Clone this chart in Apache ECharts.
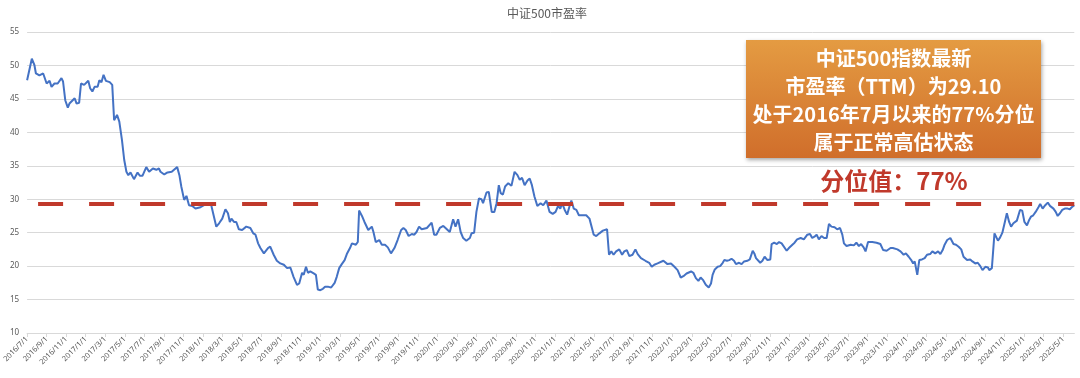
<!DOCTYPE html>
<html>
<head>
<meta charset="utf-8">
<script src="https://cdn.jsdelivr.net/npm/echarts@6/dist/echarts.min.js"></script>
<style>
html,body{margin:0;padding:0;background:#fff;}
#chart{width:1080px;height:378px;}
</style>
</head>
<body>
<div id="chart"></div>
<script>
// ---- data ----
const chartTitle = '中证500市盈率';
const xTickLabels = [
 '2016/7/1','2016/9/1','2016/11/1',
 '2017/1/1','2017/3/1','2017/5/1','2017/7/1','2017/9/1','2017/11/1',
 '2018/1/1','2018/3/1','2018/5/1','2018/7/1','2018/9/1','2018/11/1',
 '2019/1/1','2019/3/1','2019/5/1','2019/7/1','2019/9/1','2019/11/1',
 '2020/1/1','2020/3/1','2020/5/1','2020/7/1','2020/9/1','2020/11/1',
 '2021/1/1','2021/3/1','2021/5/1','2021/7/1','2021/9/1','2021/11/1',
 '2022/1/1','2022/3/1','2022/5/1','2022/7/1','2022/9/1','2022/11/1',
 '2023/1/1','2023/3/1','2023/5/1','2023/7/1','2023/9/1','2023/11/1',
 '2024/1/1','2024/3/1','2024/5/1','2024/7/1','2024/9/1','2024/11/1',
 '2025/1/1','2025/3/1','2025/5/1'
];
const yTicks = [10, 15, 20, 25, 30, 35, 40, 45, 50, 55];
const percentileValue = 29.25;
const boxLines = ['中证500指数最新', '市盈率（TTM）为29.10', '处于2016年7月以来的77%分位', '属于正常高估状态'];
const percentileText = '分位值：77%';

const dates = [
 '2016-07-01','2016-07-16','2016-07-24','2016-07-29','2016-08-09','2016-08-21','2016-09-01','2016-09-10','2016-09-16','2016-09-25',
 '2016-10-05','2016-10-17','2016-10-22','2016-10-29','2016-11-06','2016-11-11','2016-11-21','2016-11-27','2016-12-03','2016-12-11',
 '2016-12-17','2016-12-27','2017-01-09','2017-01-15','2017-01-22','2017-01-29','2017-02-07','2017-02-12','2017-02-18','2017-02-24',
 '2017-03-03','2017-03-15','2017-03-23','2017-03-29','2017-04-07','2017-04-14','2017-04-22','2017-04-29','2017-05-06','2017-05-12',
 '2017-05-19','2017-05-30','2017-06-10','2017-06-17','2017-06-25','2017-07-07','2017-07-16','2017-07-28','2017-08-08','2017-08-16',
 '2017-08-21','2017-09-02','2017-09-12','2017-09-25','2017-10-02','2017-10-12','2017-10-19','2017-10-25','2017-11-03','2017-11-10',
 '2017-11-18','2017-11-28','2017-12-08','2017-12-24','2018-01-04','2018-01-14','2018-01-27','2018-02-11','2018-02-19','2018-02-28',
 '2018-03-10','2018-03-18','2018-03-24','2018-03-29','2018-04-06','2018-04-13','2018-04-21','2018-05-01','2018-05-14','2018-05-27',
 '2018-06-05','2018-06-12','2018-06-20','2018-06-27','2018-07-03','2018-07-08','2018-07-21','2018-07-28','2018-08-08','2018-08-13',
 '2018-08-18','2018-08-29','2018-09-09','2018-09-19','2018-09-29','2018-10-09','2018-10-20','2018-10-27','2018-11-05','2018-11-10',
 '2018-11-17','2018-11-23','2018-11-30','2018-12-11','2018-12-18','2018-12-24','2019-01-01','2019-01-09','2019-01-16','2019-01-27',
 '2019-02-04','2019-02-14','2019-02-20','2019-02-27','2019-03-07','2019-03-16','2019-03-23','2019-04-02','2019-04-08','2019-04-20',
 '2019-04-26','2019-04-30','2019-05-09','2019-05-17','2019-05-29','2019-06-09','2019-06-14','2019-06-21','2019-07-02','2019-07-10',
 '2019-07-20','2019-07-29','2019-08-08','2019-08-19','2019-08-29','2019-09-09','2019-09-16','2019-09-23','2019-10-02','2019-10-12',
 '2019-10-20','2019-10-27','2019-11-04','2019-11-12','2019-11-28','2019-12-13','2019-12-21','2019-12-28','2020-01-08','2020-01-19',
 '2020-01-26','2020-02-08','2020-02-18','2020-02-25','2020-03-04','2020-03-12','2020-03-20','2020-03-30','2020-04-10','2020-04-15',
 '2020-04-23','2020-04-30','2020-05-08','2020-05-16','2020-05-21','2020-06-01','2020-06-08','2020-06-17','2020-06-25','2020-07-02',
 '2020-07-09','2020-07-15','2020-07-22','2020-07-29','2020-08-08','2020-08-18','2020-08-28','2020-09-06','2020-09-13','2020-09-20',
 '2020-09-28','2020-10-07','2020-10-14','2020-10-21','2020-10-29','2020-11-07','2020-11-17','2020-11-25','2020-12-05','2020-12-15',
 '2020-12-25','2021-01-03','2021-01-11','2021-01-18','2021-01-24','2021-02-01','2021-02-08','2021-02-14','2021-02-20','2021-02-27',
 '2021-03-07','2021-03-15','2021-03-26','2021-04-07','2021-04-17','2021-04-30','2021-05-08','2021-05-18','2021-05-29','2021-06-11',
 '2021-06-17','2021-06-24','2021-07-01','2021-07-09','2021-07-19','2021-07-28','2021-08-04','2021-08-12','2021-08-20','2021-08-30',
 '2021-09-08','2021-09-15','2021-09-25','2021-10-09','2021-10-21','2021-10-29','2021-11-06','2021-11-16','2021-12-04','2021-12-17',
 '2021-12-28','2022-01-08','2022-01-18','2022-01-28','2022-02-05','2022-02-14','2022-02-27','2022-03-06','2022-03-14','2022-03-22',
 '2022-03-29','2022-04-06','2022-04-14','2022-04-23','2022-04-30','2022-05-05','2022-05-12','2022-05-21','2022-05-29','2022-06-06',
 '2022-06-11','2022-06-19','2022-06-26','2022-07-03','2022-07-11','2022-07-17','2022-07-27','2022-08-04','2022-08-12','2022-08-22',
 '2022-08-30','2022-09-08','2022-09-13','2022-09-18','2022-10-01','2022-10-08','2022-10-15','2022-10-24','2022-11-02','2022-11-06',
 '2022-11-14','2022-11-22','2022-11-29','2022-12-07','2022-12-13','2022-12-23','2022-12-30','2023-01-10','2023-01-17','2023-01-25',
 '2023-02-05','2023-02-14','2023-02-24','2023-03-04','2023-03-11','2023-03-18','2023-03-25','2023-04-01','2023-04-09','2023-04-17',
 '2023-04-25','2023-05-02','2023-05-10','2023-05-20','2023-05-28','2023-06-06','2023-06-13','2023-06-18','2023-06-26','2023-07-09',
 '2023-07-19','2023-07-27','2023-08-04','2023-08-11','2023-08-19','2023-08-25','2023-09-02','2023-09-15','2023-09-28','2023-10-10',
 '2023-10-19','2023-10-30','2023-11-11','2023-11-18','2023-12-02','2023-12-12','2023-12-22','2023-12-29','2024-01-07','2024-01-15',
 '2024-01-21','2024-01-26','2024-02-03','2024-02-09','2024-02-17','2024-02-25','2024-03-03','2024-03-13','2024-03-20','2024-03-29',
 '2024-04-07','2024-04-14','2024-04-21','2024-04-27','2024-05-05','2024-05-15','2024-05-25','2024-06-02','2024-06-10','2024-06-18',
 '2024-06-25','2024-07-06','2024-07-16','2024-07-23','2024-08-01','2024-08-09','2024-08-17','2024-08-24','2024-09-02','2024-09-10',
 '2024-09-14','2024-09-22','2024-09-30','2024-10-11','2024-10-18','2024-10-25','2024-11-01','2024-11-08','2024-11-15','2024-11-21',
 '2024-11-28','2024-12-09','2024-12-14','2024-12-19','2024-12-26','2025-01-02','2025-01-10','2025-01-17','2025-01-23','2025-01-30',
 '2025-02-06','2025-02-14','2025-02-19','2025-02-26','2025-03-06','2025-03-14','2025-03-21','2025-04-01','2025-04-08','2025-04-14',
 '2025-04-21','2025-04-28','2025-05-06','2025-05-15','2025-05-22','2025-05-28','2025-06-05'
];
const peValues = [
 47.8,51.0,50.1,48.8,48.5,48.8,47.3,47.7,46.8,47.3,
 47.3,48.1,47.6,44.8,43.7,44.3,44.8,45.1,44.3,44.4,
 47.3,47.1,47.7,46.6,46.1,46.8,46.8,47.8,47.5,48.6,
 47.7,47.5,47.1,41.8,42.6,41.6,38.9,35.9,34.1,33.6,
 34.0,33.0,34.0,33.5,33.5,34.8,34.1,34.6,34.4,34.6,
 34.1,33.7,34.0,34.1,34.4,34.8,33.6,31.9,29.9,30.5,
 29.1,29.0,28.6,28.8,29.1,29.4,29.1,25.9,26.4,27.1,
 28.5,27.9,26.6,27.1,26.6,26.6,25.5,25.4,25.9,25.7,
 24.9,24.7,23.4,22.7,22.8,21.9,22.7,22.9,21.7,21.9,
 20.8,20.4,20.2,19.7,19.8,18.4,17.2,17.4,19.0,18.7,
 19.9,19.0,19.2,18.9,18.7,16.5,16.4,16.6,16.9,16.9,
 16.8,17.5,18.4,19.7,20.3,20.9,21.8,22.7,23.4,23.2,
 23.6,28.3,27.5,26.6,25.4,25.9,25.1,23.6,23.9,23.2,
 23.2,22.8,21.9,22.7,23.9,25.4,25.7,25.4,24.5,24.8,
 24.7,25.1,25.9,25.5,25.7,26.5,24.7,24.7,25.7,26.0,
 25.7,25.1,27.0,25.9,27.0,25.1,24.2,23.8,24.2,24.9,
 25.0,28.1,30.1,30.0,29.4,31.0,31.1,28.1,28.1,29.4,
 32.1,30.9,30.7,31.9,32.4,32.0,34.1,33.6,32.9,33.2,
 32.1,32.8,33.1,32.1,30.4,29.0,29.4,29.1,29.8,28.1,
 27.8,28.1,29.0,28.6,29.4,28.4,27.7,28.8,29.8,28.6,
 28.4,27.6,27.6,27.6,27.1,24.7,24.5,24.9,25.3,25.5,
 21.7,22.2,21.7,22.2,22.5,21.7,22.2,22.4,21.5,21.7,
 22.5,21.8,21.2,20.8,20.5,19.9,20.2,20.4,20.8,20.3,
 20.4,19.9,19.4,18.3,18.5,18.9,19.2,19.0,18.2,17.8,
 18.3,17.9,17.2,16.8,17.4,18.7,19.5,19.9,20.0,20.5,
 20.9,20.8,20.9,21.1,20.8,20.3,20.5,20.3,20.7,20.8,
 21.0,22.3,21.9,21.2,20.5,20.8,21.4,20.9,21.0,23.3,
 23.5,23.3,23.6,23.4,23.6,22.3,22.7,23.2,23.5,24.0,
 24.2,24.0,24.7,24.8,24.2,24.4,24.7,24.0,24.5,24.2,
 24.2,26.3,25.9,25.8,25.5,25.7,24.7,23.4,23.0,23.2,
 23.1,23.5,23.0,23.3,22.8,22.2,23.6,23.6,23.5,23.3,
 22.4,22.3,22.7,22.7,22.5,22.2,21.7,21.9,21.4,20.9,
 20.4,20.7,18.7,20.9,21.0,21.2,21.7,21.8,22.2,21.9,
 22.2,21.8,22.4,23.2,23.9,24.2,23.3,23.2,22.9,22.5,
 21.4,20.9,21.0,20.7,20.4,20.5,20.0,19.4,19.9,19.8,
 19.4,19.7,24.9,23.8,24.3,25.0,26.4,27.9,26.6,25.9,
 26.4,26.8,27.0,28.4,28.3,26.6,26.1,26.9,27.4,27.6,
 28.1,28.8,29.3,28.6,29.1,29.5,29.0,28.6,28.1,27.5,
 27.9,28.4,28.6,28.6,28.5,28.8,29.1
];

// ---- helpers ----
function daysIn(y, m) { return new Date(y, m, 0).getDate(); }
function toMonth(str) {
  const p = str.split(/[-\/]/).map(Number);
  return (p[0] - 2016) * 12 + (p[1] - 7) + (p[2] - 1) / daysIn(p[0], p[1]);
}
const tickPos = xTickLabels.map(toMonth);
const seriesData = dates.map((d, i) => [toMonth(d), peValues[i]]);
const xMax = toMonth(dates[dates.length - 1]);

const chart = echarts.init(document.getElementById('chart'));
const txtFont = '"Noto Sans CJK SC", "Noto Sans", sans-serif';
const boxX = 746, boxY = 40, boxW = 295, boxH = 118;
const graphics = [{
  type: 'rect',
  shape: { x: boxX, y: boxY, width: boxW, height: boxH },
  style: {
    fill: new echarts.graphic.LinearGradient(0, 0, 0, 1, [
      { offset: 0, color: '#E49B42' }, { offset: 1, color: '#D06E2B' }
    ]),
    shadowBlur: 4, shadowColor: 'rgba(0,0,0,0.35)', shadowOffsetX: 1, shadowOffsetY: 2
  },
  z: 100
}];
boxLines.forEach((t, i) => {
  graphics.push({
    type: 'text', z: 101,
    style: {
      text: t, x: boxX + boxW / 2, y: 58 + i * 28.2,
      textAlign: 'center', textVerticalAlign: 'middle',
      fill: '#ffffff', font: 'bold 20px ' + txtFont
    }
  });
});
graphics.push({
  type: 'text', z: 101,
  style: {
    text: percentileText, x: 894, y: 181,
    textAlign: 'center', textVerticalAlign: 'middle',
    fill: '#C0392B', font: 'bold 24px ' + txtFont
  }
});

chart.setOption({
  animation: false,
  backgroundColor: '#ffffff',
  title: {
    text: chartTitle, left: 542, top: 2, textAlign: 'center',
    textStyle: { fontSize: 12, fontWeight: 'normal', color: '#595959', fontFamily: txtFont }
  },
  grid: { left: 24.3, right: 5.7, top: 32, bottom: 45, containLabel: false },
  xAxis: {
    type: 'value', min: 0, max: xMax,
    axisLine: { show: true, lineStyle: { color: '#D9D9D9', width: 1 } },
    axisTick: { show: true, customValues: tickPos, length: 4, lineStyle: { color: '#D9D9D9' } },
    axisLabel: {
      customValues: tickPos, rotate: 45, fontSize: 7.5, color: '#595959', margin: 5,
      fontFamily: '"Noto Sans", sans-serif',
      formatter: function (v) {
        let best = 0;
        tickPos.forEach((p, i) => { if (Math.abs(p - v) < Math.abs(tickPos[best] - v)) best = i; });
        return xTickLabels[best];
      }
    },
    splitLine: { show: false }
  },
  yAxis: {
    type: 'value', min: yTicks[0], max: yTicks[yTicks.length - 1], interval: 5,
    axisLine: { show: false }, axisTick: { show: false },
    axisLabel: { fontSize: 8, color: '#595959', margin: 8, fontFamily: '"Noto Sans", sans-serif' },
    splitLine: { lineStyle: { color: '#D9D9D9', width: 1 } }
  },
  series: [{
    type: 'line', data: seriesData, showSymbol: false, smooth: false,
    lineStyle: { color: '#4472C4', width: 2 },
    itemStyle: { color: '#4472C4' },
    z: 3,
    markLine: {
      silent: true, symbol: ['none', 'none'], label: { show: false },
      lineStyle: { color: '#C0392B', width: 4, type: [25, 26], dashOffset: 40 },
      data: [{ yAxis: percentileValue }],
      z: 4
    }
  }],
  graphic: graphics
});
</script>
</body>
</html>
